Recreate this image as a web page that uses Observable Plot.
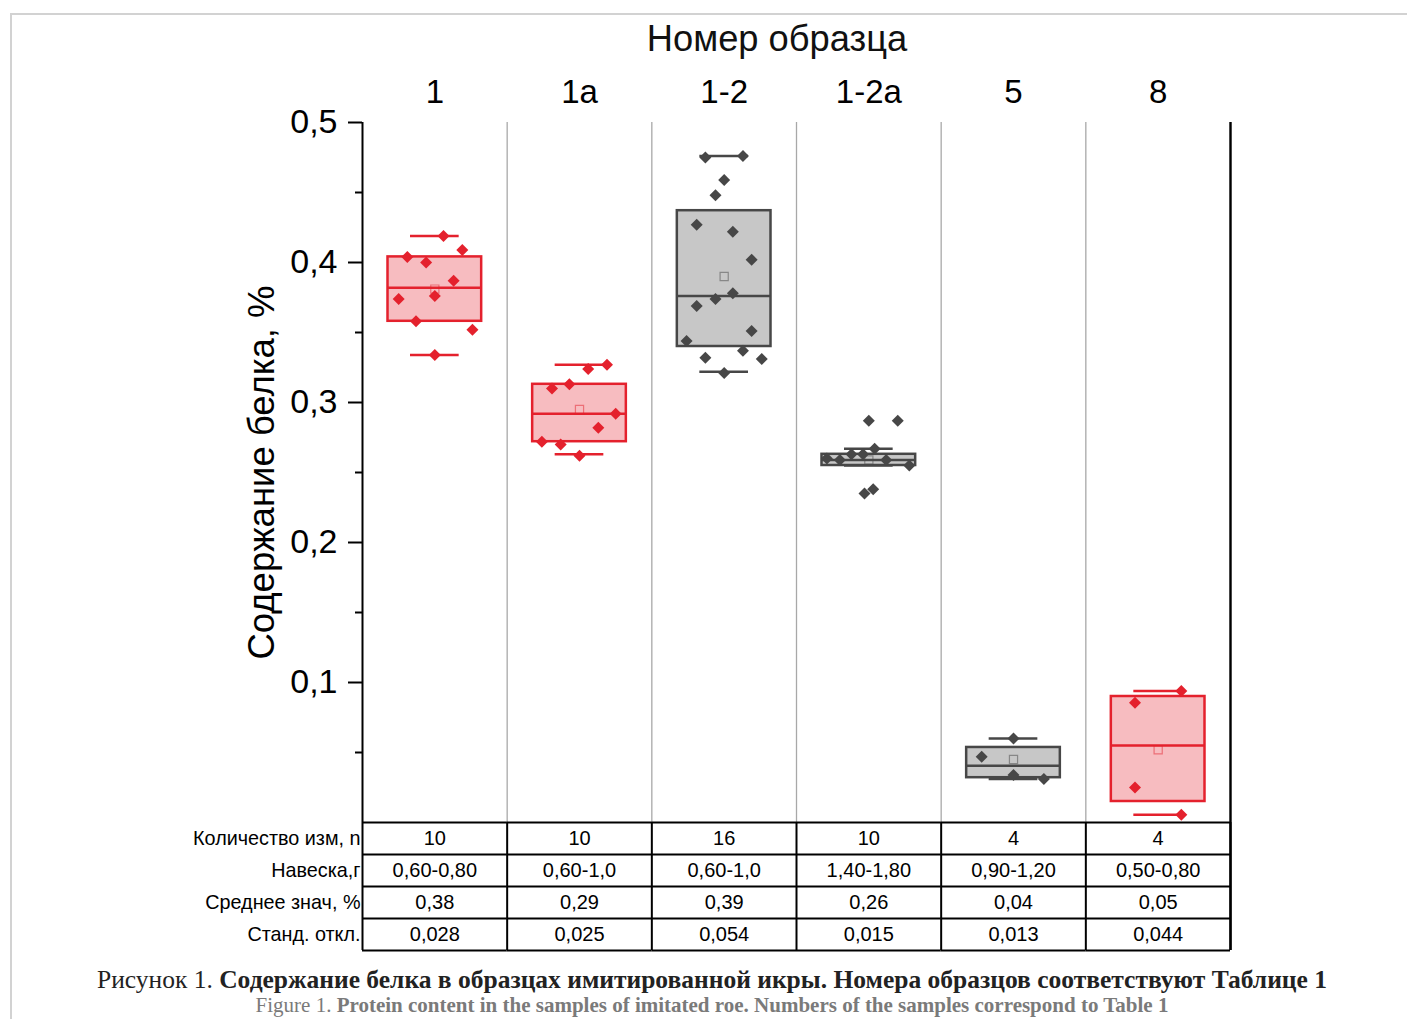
<!DOCTYPE html>
<html><head><meta charset="utf-8">
<script src="https://cdn.jsdelivr.net/npm/d3@7"></script>
<script src="https://cdn.jsdelivr.net/npm/@observablehq/plot@0.6"></script>
<style>
body{margin:0;background:#fff;}
#wrap{position:relative;width:1407px;height:1019px;overflow:hidden;font-family:"Liberation Sans",Arial,sans-serif;}
#border{position:absolute;left:10px;top:13px;width:1420px;height:1030px;border-top:2px solid #d2d2d2;border-left:2px solid #d2d2d2;}
#chart{position:absolute;left:0;top:0;}
#title{position:absolute;left:527px;width:500px;top:18px;text-align:center;font-size:36.3px;color:#111;}
.cap{position:absolute;left:12px;width:1400px;text-align:center;font-family:"Liberation Serif","Times New Roman",serif;white-space:nowrap;}
#cap1{top:965px;font-size:25.5px;color:#222;}
#cap2{top:993px;font-size:21px;color:#7a7a7a;}
</style></head>
<body>
<div id="wrap">
  <div id="border"></div>
  <div id="chart"></div>
  <div id="title">Номер образца</div>
  <div id="cap1" class="cap">Рисунок 1. <b>Содержание белка в образцах имитированной икры. Номера образцов соответствуют Таблице 1</b></div>
  <div id="cap2" class="cap">Figure 1. <b>Protein content in the samples of imitated roe. Numbers of the samples correspond to Table 1</b></div>
</div>
<script>
// ---- data ----
const categories = ["1", "1a", "1-2", "1-2a", "5", "8"];
const boxQ1      = [0.358, 0.272, 0.340, 0.255, 0.032, 0.015];
const boxMedian  = [0.382, 0.292, 0.376, 0.259, 0.0405, 0.055];
const boxQ3      = [0.404, 0.313, 0.437, 0.263, 0.0536, 0.090];
const whiskerLow = [0.334, 0.263, 0.322, 0.255, 0.031, 0.0055];
const whiskerHigh= [0.419, 0.327, 0.476, 0.267, 0.060, 0.094];
const boxMean    = [0.381, 0.295, 0.390, 0.259, 0.045, 0.052];

const pointSample = [
  "1","1","1","1","1","1","1","1","1","1",
  "1a","1a","1a","1a","1a","1a","1a","1a","1a",
  "1-2","1-2","1-2","1-2","1-2","1-2","1-2","1-2","1-2","1-2","1-2","1-2","1-2","1-2","1-2","1-2",
  "1-2a","1-2a","1-2a","1-2a","1-2a","1-2a","1-2a","1-2a","1-2a","1-2a","1-2a",
  "5","5","5","5",
  "8","8","8","8"
];
const pointValue = [
  0.419,0.409,0.404,0.400,0.387,0.374,0.376,0.358,0.352,0.334,
  0.327,0.324,0.310,0.313,0.292,0.282,0.272,0.270,0.262,
  0.475,0.476,0.459,0.448,0.427,0.422,0.402,0.374,0.378,0.369,0.351,0.344,0.337,0.332,0.331,0.321,
  0.287,0.287,0.267,0.260,0.259,0.263,0.263,0.259,0.255,0.235,0.238,
  0.060,0.047,0.034,0.031,
  0.094,0.0855,0.025,0.0055
];
// horizontal jitter of each point, as a share of the column width
const pointJitter = [
  0.06,0.19,-0.19,-0.06,0.13,-0.25,0,-0.13,0.26,0,
  0.19,0.06,-0.19,-0.07,0.25,0.13,-0.26,-0.13,0,
  -0.13,0.13,0,-0.06,-0.19,0.06,0.19,-0.06,0.06,-0.19,0.19,-0.26,0.13,-0.13,0.26,0,
  0,0.2,0.04,-0.29,-0.2,-0.12,-0.04,0.12,0.28,-0.03,0.03,
  0,-0.22,0,0.21,
  0.16,-0.16,-0.16,0.16
];

const yTicks = [0.1, 0.2, 0.3, 0.4, 0.5];
const yMinorTicks = [0.05, 0.15, 0.25, 0.35, 0.45];

const tableRowLabels = ["Количество изм, n", "Навеска,г", "Среднее знач, %", "Станд. откл."];
const countN   = [10, 10, 16, 10, 4, 4];
const sampleMass = ["0,60-0,80", "0,60-1,0", "0,60-1,0", "1,40-1,80", "0,90-1,20", "0,50-0,80"];
const meanValue  = [0.38, 0.29, 0.39, 0.26, 0.04, 0.05];
const stdDev     = [0.028, 0.025, 0.054, 0.015, 0.013, 0.044];

// ---- build tables ----
const stats = categories.map((c, i) => ({
  cat: c, q1: boxQ1[i], med: boxMedian[i], q3: boxQ3[i],
  lo: whiskerLow[i], hi: whiskerHigh[i], mean: boxMean[i]
}));
const points = pointValue.map((v, i) => ({cat: pointSample[i], value: v, jitter: pointJitter[i]}));
const comma = (d, n) => d.toFixed(n).replace(".", ",");
const tableRows = [
  countN.map(String),
  sampleMass,
  meanValue.map(d => comma(d, 2)),
  stdDev.map(d => comma(d, 3))
];

const RED = "#e4212d", GRAY = "#474747";
const W = 1407, H = 962, mT = 122, mB = H - 822, mL = 362, mR = 1407 - 1230;
const frameH = H - mT - mB;
const rowH = 32;
const tableH = rowH * tableRows.length;

const marks = [
  // column separators
  Plot.ruleX([0.5], {stroke: "#a8a8a8", strokeWidth: 1.3}),
  // boxes
  Plot.rect(stats, {fx: "cat", y1: "q1", y2: "q3", fill: "cat", fillOpacity: 0.3, stroke: "cat", strokeWidth: 2.5, insetLeft: 25.5, insetRight: 25.5}),
  Plot.ruleX(stats, {fx: "cat", y1: "lo", y2: "q1", stroke: "cat", strokeWidth: 2.5}),
  Plot.ruleX(stats, {fx: "cat", y1: "q3", y2: "hi", stroke: "cat", strokeWidth: 2.5}),
  Plot.ruleY(stats, {fx: "cat", y: "hi", stroke: "cat", strokeWidth: 2.5, insetLeft: 48, insetRight: 48}),
  Plot.ruleY(stats, {fx: "cat", y: "lo", stroke: "cat", strokeWidth: 2.5, insetLeft: 48, insetRight: 48}),
  Plot.ruleY(stats, {fx: "cat", y: "med", stroke: "cat", strokeWidth: 2.5, insetLeft: 25.5, insetRight: 25.5}),
  Plot.dot(stats, {fx: "cat", y: "mean", symbol: "square", r: 4.6, fill: "none", stroke: "cat", strokeOpacity: 0.5, strokeWidth: 1.2}),
  // points
  Plot.dot(points, {fx: "cat", x: "jitter", y: "value", symbol: "diamond2", r: 5.4, fill: "cat"}),
  // axis lines
  Plot.ruleX([categories[0]], {fx: d => d, x: () => -0.5, stroke: "black", strokeWidth: 2, insetBottom: -tableH}),
  Plot.ruleX([categories[categories.length - 1]], {fx: d => d, x: () => 0.5, stroke: "black", strokeWidth: 2.4, insetBottom: -tableH}),
  // y axis
  Plot.axisY({ticks: yTicks, tickFormat: d => comma(d, 1), tickSize: 14, tickPadding: 11, fontSize: 34, strokeWidth: 2, stroke: "black", label: null}),
  Plot.axisY({ticks: yMinorTicks, tickFormat: () => "", tickSize: 7, strokeWidth: 2, stroke: "black", label: null}),
  // y axis title
  Plot.text([categories[0]], {fx: d => d, x: () => -0.5, text: () => "Содержание белка, %", rotate: -90, frameAnchor: "middle", dx: -100, fontSize: 36.5}),
  // category labels on top
  Plot.text(categories, {fx: d => d, text: d => d, frameAnchor: "top", lineAnchor: "middle", dy: -30, fontSize: 33}),
  // table grid
  Plot.ruleX([0.5], {stroke: "black", strokeWidth: 2, insetTop: frameH, insetBottom: -tableH}),
  Plot.ruleY([0], {stroke: "black", strokeWidth: 2.2}),
  ...tableRows.map((_, k) => Plot.ruleY([0], {stroke: "black", strokeWidth: 2, dy: rowH * (k + 1)}))
];

tableRows.forEach((row, k) => {
  marks.push(Plot.text(categories, {fx: d => d, text: (d, i) => row[i], frameAnchor: "bottom", lineAnchor: "middle", dy: rowH * k + rowH / 2, fontSize: 20}));
  marks.push(Plot.text([categories[0]], {fx: d => d, x: () => -0.5, text: () => tableRowLabels[k], textAnchor: "end", dx: -2, frameAnchor: "bottom", lineAnchor: "middle", dy: rowH * k + rowH / 2, fontSize: 19.8}));
});

const chart = Plot.plot({
  width: W, height: H,
  marginTop: mT, marginBottom: mB, marginLeft: mL, marginRight: mR,
  style: {fontFamily: "'Liberation Sans', Arial, sans-serif", background: "transparent", overflow: "visible", color: "black"},
  fx: {domain: categories, padding: 0, round: false, axis: null, label: null},
  x: {domain: [-0.5, 0.5], axis: null},
  y: {domain: [0, 0.5], axis: null},
  color: {domain: categories, range: [RED, RED, GRAY, GRAY, GRAY, RED]},
  marks
});
document.getElementById("chart").appendChild(chart);
</script>
</body></html>
